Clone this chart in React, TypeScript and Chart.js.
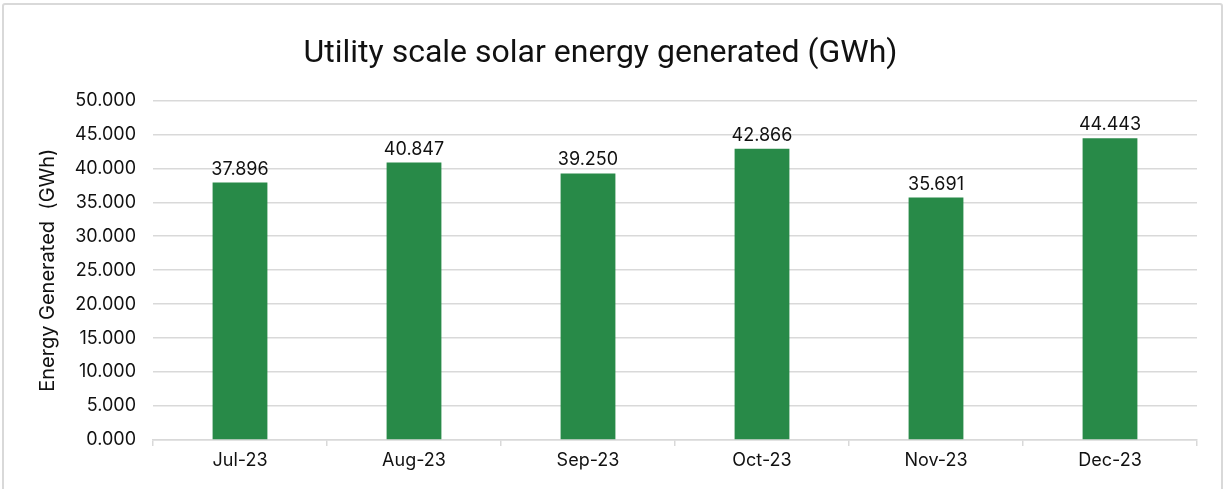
import React, { useEffect, useRef } from "react";
import { Chart, registerables } from "chart.js";

Chart.register(...registerables);

const categories = ["Jul-23", "Aug-23", "Sep-23", "Oct-23", "Nov-23", "Dec-23"];
const energyValues = [37.896, 40.847, 39.25, 42.866, 35.691, 44.443];
const chartTitle = "Utility scale solar energy generated (GWh)";
const yAxisTitle = "Energy Generated  (GWh)";

const W = 1217;
const H = 486;

const valueLabels = {
  id: "valueLabels",
  afterDatasetsDraw(chart: any) {
    const { ctx } = chart;
    const meta = chart.getDatasetMeta(0);
    ctx.save();
    ctx.font = "18px Inter";
    ctx.fillStyle = "#111";
    ctx.textAlign = "center";
    ctx.textBaseline = "alphabetic";
    meta.data.forEach((bar: any, i: number) => {
      const v = chart.data.datasets[0].data[i] as number;
      ctx.fillText(v.toFixed(3), bar.x, bar.y - 8);
    });
    ctx.restore();
  },
};

export default function App() {
  const ref = useRef<HTMLCanvasElement | null>(null);
  useEffect(() => {
    if (!ref.current) return;
    const chart = new Chart(ref.current, {
      type: "bar",
      data: {
        labels: categories,
        datasets: [
          {
            data: energyValues,
            backgroundColor: "#288a48",
            barPercentage: 0.63,
            categoryPercentage: 0.5,
          },
        ],
      },
      options: {
        responsive: false,
        animation: false,
        layout: { padding: { left: 0, right: 24, top: 0, bottom: 0 } },
        plugins: {
          legend: { display: false },
          tooltip: { enabled: false },
          title: {
            display: true,
            text: chartTitle,
            color: "#111",
            font: { family: "Roboto", size: 32, weight: "normal" },
            padding: { top: 30, bottom: 27 },
          },
        },
        scales: {
          x: {
            offset: true,
            grid: {
              display: true,
              drawOnChartArea: false,
              drawTicks: true,
              tickLength: 6,
              color: "#d9d9d9",
              lineWidth: 1.5,
              offset: true,
            },
            border: { display: true, color: "#d9d9d9", width: 1.5 },
            ticks: {
              color: "#111",
              font: { family: "Inter", size: 18 },
              padding: 4,
            },
            afterFit(scale: any) {
              scale.height = H - 435;
            },
          },
          y: {
            min: 0,
            max: 50,
            grid: { color: "#d9d9d9", lineWidth: 1.5, drawTicks: false },
            border: { display: false },
            ticks: {
              stepSize: 5,
              color: "#111",
              font: { family: "Inter", size: 18 },
              padding: 17,
              callback: (v: any) => Number(v).toFixed(3),
            },
            title: {
              display: true,
              text: yAxisTitle,
              color: "#111",
              font: { family: "Inter", size: 20 },
              padding: { top: 32, bottom: 0 },
            },
            afterFit(scale: any) {
              scale.width = 149;
            },
          },
        },
      },
      plugins: [valueLabels],
    });
    return () => chart.destroy();
  }, []);
  return (
    <div
      style={{
        position: "fixed",
        left: 2,
        top: 3,
        width: W + 4,
        height: H + 10,
        border: "2px solid #d9d9d9",
        borderRadius: 3,
        boxSizing: "border-box",
        background: "#fff",
      }}
    >
      <canvas ref={ref} width={W} height={H} style={{ display: "block" }} />
    </div>
  );
}
